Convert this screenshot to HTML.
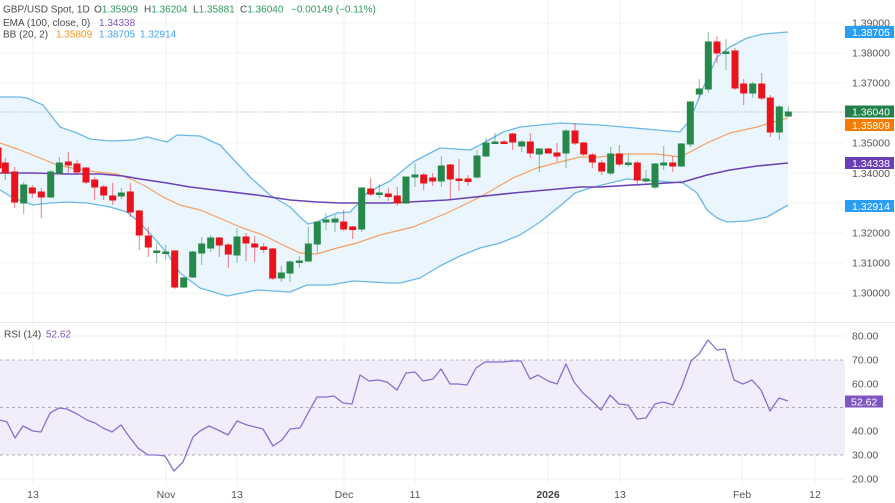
<!DOCTYPE html>
<html>
<head>
<meta charset="utf-8">
<style>
html,body{margin:0;padding:0;background:#fff;}
svg{display:block;font-family:"Liberation Sans",Arial,sans-serif;}
</style>
</head>
<body>
<svg width="895" height="503" viewBox="0 0 895 503" xmlns="http://www.w3.org/2000/svg">
<rect width="895" height="503" fill="#fff"/>
<!-- vertical grid -->
<g stroke="#f1f1f1" stroke-width="1">
<line x1="33" y1="0" x2="33" y2="485"/>
<line x1="166" y1="0" x2="166" y2="485"/>
<line x1="237" y1="0" x2="237" y2="485"/>
<line x1="344" y1="0" x2="344" y2="485"/>
<line x1="415" y1="0" x2="415" y2="485"/>
<line x1="548" y1="0" x2="548" y2="485"/>
<line x1="620" y1="0" x2="620" y2="485"/>
<line x1="742" y1="0" x2="742" y2="485"/>
<line x1="815" y1="0" x2="815" y2="485"/>
</g>
<!-- horizontal grid main -->
<g stroke="#f3f3f3" stroke-width="1">
<line x1="0" y1="23" x2="845" y2="23"/>
<line x1="0" y1="53" x2="845" y2="53"/>
<line x1="0" y1="83" x2="845" y2="83"/>
<line x1="0" y1="143" x2="845" y2="143"/>
<line x1="0" y1="173" x2="845" y2="173"/>
<line x1="0" y1="203" x2="845" y2="203"/>
<line x1="0" y1="233" x2="845" y2="233"/>
<line x1="0" y1="263" x2="845" y2="263"/>
<line x1="0" y1="293" x2="845" y2="293"/>
</g>
<!-- panel separator -->
<line x1="0" y1="322.5" x2="895" y2="322.5" stroke="#e6e6e6" stroke-width="1"/>

<!-- BB fill -->
<path d="M0,97 L20,97 L27,98 L43,105 L60,127 L77,133 L90,139 L110,141 L133,140 L147,137 L167,142 L177,135 L200,136 L220,145 L250,177 L270,195 L290,207 L300,217 L308,224 L317,222 L327,217 L337,213 L350,212 L357,205 L367,193 L380,186 L390,181 L413,162 L440,148 L470,150 L480,145 L503,132 L520,127 L560,123 L580,124 L600,125 L623,127 L657,130 L680,132 L690,120 L703,88 L717,57 L730,47 L747,38 L763,34 L788,32 L788,205 L767,217 L747,221 L727,222 L717,218 L707,210 L697,193 L683,183 L657,181 L627,179 L610,183 L590,188 L575,193 L560,206 L540,222 L520,235 L500,243 L480,248 L460,256 L440,266 L420,278 L400,283 L390,283 L353,281 L330,285 L307,285 L290,292 L257,290 L227,296 L200,288 L180,273 L167,253 L153,237 L140,223 L127,212 L110,207 L87,203 L67,202 L50,203 L33,205 L13,198 L0,190 Z" fill="#eaf5fd"/>

<!-- price line -->
<line x1="0" y1="112" x2="845" y2="112" stroke="#9fcfb0" stroke-width="1" stroke-dasharray="1.5 1.5"/>

<!-- BB lines -->
<g fill="none" stroke="#6cb8e6" stroke-width="1.3" stroke-linejoin="round">
<path d="M0,97 L20,97 L27,98 L43,105 L60,127 L77,133 L90,139 L110,141 L133,140 L147,137 L167,142 L177,135 L200,136 L220,145 L250,177 L270,195 L290,207 L300,217 L308,224 L317,222 L327,217 L337,213 L350,212 L357,205 L367,193 L380,186 L390,181 L413,162 L440,148 L470,150 L480,145 L503,132 L520,127 L560,123 L580,124 L600,125 L623,127 L657,130 L680,132 L690,120 L703,88 L717,57 L730,47 L747,38 L763,34 L788,32"/>
<path d="M0,190 L13,198 L33,205 L50,203 L67,202 L87,203 L110,207 L127,212 L140,223 L153,237 L167,253 L180,273 L200,288 L227,296 L257,290 L290,292 L307,285 L330,285 L353,281 L390,283 L400,283 L420,278 L440,266 L460,256 L480,248 L500,243 L520,235 L540,222 L560,206 L575,193 L590,188 L610,183 L627,179 L657,181 L683,183 L697,193 L707,210 L717,218 L727,222 L747,221 L767,217 L788,205"/>
</g>
<!-- BB basis -->
<path d="M0,143 L20,150 L40,158 L57,165 L77,169 L97,172 L117,174 L133,180 L147,187 L163,197 L180,205 L200,210 L217,217 L240,227 L263,235 L283,245 L300,253 L317,254 L337,248 L357,243 L380,235 L413,227 L447,213 L480,197 L513,178 L537,168 L560,162 L580,157 L600,157 L623,154 L657,154 L680,157 L690,152 L707,143 L730,133 L757,127 L770,123 L788,118" fill="none" stroke="#f4a261" stroke-width="1.2"/>
<!-- EMA -->
<path d="M0,173 L33,173 L67,174 L100,174 L123,176 L140,179 L167,183 L190,187 L223,191 L257,195 L290,200 L317,202 L340,203 L390,203 L447,200 L513,193 L580,187 L600,187 L683,182 L707,175 L730,170 L757,166 L788,163" fill="none" stroke="#6a44b4" stroke-width="1.6"/>

<!-- candles -->
<g id="candles">
<g stroke="#e8131b" fill="#e8131b">
<line x1="-2" y1="146" x2="-2" y2="172" stroke-opacity="0.55"/><rect x="-5" y="148" width="6" height="20"/>
<line x1="5.3" y1="158" x2="5.3" y2="180" stroke-opacity="0.55"/><rect x="2.3" y="163" width="6" height="10"/>
<line x1="14.7" y1="167" x2="14.7" y2="208" stroke-opacity="0.55"/><rect x="11.7" y="172" width="6" height="30"/>
<line x1="32.3" y1="185" x2="32.3" y2="198" stroke-opacity="0.55"/><rect x="29.3" y="188" width="6" height="5"/>
<line x1="41.3" y1="188" x2="41.3" y2="218" stroke-opacity="0.55"/><rect x="38.3" y="192" width="6" height="5"/>
<line x1="68.3" y1="152" x2="68.3" y2="173" stroke-opacity="0.55"/><rect x="65.3" y="162" width="6" height="3"/>
<line x1="77" y1="160" x2="77" y2="175" stroke-opacity="0.55"/><rect x="74" y="164" width="6" height="8"/>
<line x1="86" y1="167" x2="86" y2="184" stroke-opacity="0.55"/><rect x="83" y="168" width="6" height="14"/>
<line x1="94.7" y1="177" x2="94.7" y2="200" stroke-opacity="0.55"/><rect x="91.7" y="180" width="6" height="7"/>
<line x1="103.7" y1="185" x2="103.7" y2="200" stroke-opacity="0.55"/><rect x="100.7" y="187" width="6" height="8"/>
<line x1="112.7" y1="183" x2="112.7" y2="205" stroke-opacity="0.55"/><rect x="109.7" y="196" width="6" height="4"/>
<line x1="130.3" y1="183" x2="130.3" y2="217" stroke-opacity="0.55"/><rect x="127.3" y="192" width="6" height="20"/>
<line x1="139.3" y1="210" x2="139.3" y2="250" stroke-opacity="0.55"/><rect x="136.3" y="211" width="6" height="24"/>
<line x1="148.3" y1="227" x2="148.3" y2="257" stroke-opacity="0.55"/><rect x="145.3" y="236" width="6" height="11"/>
<line x1="174.7" y1="250" x2="174.7" y2="289" stroke-opacity="0.55"/><rect x="171.7" y="251" width="6" height="36"/>
<line x1="219.3" y1="237" x2="219.3" y2="257" stroke-opacity="0.55"/><rect x="216.3" y="238" width="6" height="7"/>
<line x1="228.3" y1="243" x2="228.3" y2="268" stroke-opacity="0.55"/><rect x="225.3" y="245" width="6" height="9"/>
<line x1="246" y1="233" x2="246" y2="261" stroke-opacity="0.55"/><rect x="243" y="237" width="6" height="6"/>
<line x1="254.7" y1="236" x2="254.7" y2="262" stroke-opacity="0.55"/><rect x="251.7" y="244" width="6" height="3"/>
<line x1="263.7" y1="243" x2="263.7" y2="253" stroke-opacity="0.55"/><rect x="260.7" y="247" width="6" height="2.5"/>
<line x1="272.7" y1="248" x2="272.7" y2="280" stroke-opacity="0.55"/><rect x="269.7" y="249" width="6" height="29"/>
<line x1="343.7" y1="210" x2="343.7" y2="231" stroke-opacity="0.55"/><rect x="340.7" y="222" width="6" height="7"/>
<line x1="352.7" y1="226" x2="352.7" y2="239" stroke-opacity="0.55"/><rect x="349.7" y="227" width="6" height="2.5"/>
<line x1="370.7" y1="178" x2="370.7" y2="196" stroke-opacity="0.55"/><rect x="367.7" y="189" width="6" height="5"/>
<line x1="388.3" y1="188" x2="388.3" y2="201" stroke-opacity="0.55"/><rect x="385.3" y="194" width="6" height="2.5"/>
<line x1="397.3" y1="187" x2="397.3" y2="206" stroke-opacity="0.55"/><rect x="394.3" y="196" width="6" height="7"/>
<line x1="423.7" y1="173" x2="423.7" y2="190" stroke-opacity="0.55"/><rect x="420.7" y="175" width="6" height="8"/>
<line x1="432.7" y1="173" x2="432.7" y2="186" stroke-opacity="0.55"/><rect x="429.7" y="178" width="6" height="3"/>
<line x1="450.3" y1="164" x2="450.3" y2="199" stroke-opacity="0.55"/><rect x="447.3" y="165" width="6" height="14"/>
<line x1="459" y1="159" x2="459" y2="191" stroke-opacity="0.55"/><rect x="456" y="179" width="6" height="1.5"/>
<line x1="468" y1="175" x2="468" y2="186" stroke-opacity="0.55"/><rect x="465" y="179" width="6" height="2.5"/>
<line x1="504" y1="140" x2="504" y2="144" stroke-opacity="0.55"/><rect x="501" y="142" width="6" height="1.5"/>
<line x1="512.7" y1="133" x2="512.7" y2="150" stroke-opacity="0.55"/><rect x="509.7" y="134" width="6" height="8"/>
<line x1="530.3" y1="133" x2="530.3" y2="158" stroke-opacity="0.55"/><rect x="527.3" y="142" width="6" height="11"/>
<line x1="548.3" y1="148" x2="548.3" y2="153" stroke-opacity="0.55"/><rect x="545.3" y="149" width="6" height="4"/>
<line x1="557" y1="143" x2="557" y2="162" stroke-opacity="0.55"/><rect x="554" y="153" width="6" height="3"/>
<line x1="575" y1="123" x2="575" y2="145" stroke-opacity="0.55"/><rect x="572" y="131" width="6" height="12"/>
<line x1="583.7" y1="142" x2="583.7" y2="156" stroke-opacity="0.55"/><rect x="580.7" y="143" width="6" height="11"/>
<line x1="592.3" y1="153" x2="592.3" y2="168" stroke-opacity="0.55"/><rect x="589.3" y="155" width="6" height="7"/>
<line x1="601.7" y1="160" x2="601.7" y2="175" stroke-opacity="0.55"/><rect x="598.7" y="163" width="6" height="8"/>
<line x1="619.3" y1="145" x2="619.3" y2="166" stroke-opacity="0.55"/><rect x="616.3" y="154" width="6" height="10"/>
<line x1="637.3" y1="161" x2="637.3" y2="184" stroke-opacity="0.55"/><rect x="634.3" y="163" width="6" height="17"/>
<line x1="672.7" y1="156" x2="672.7" y2="172" stroke-opacity="0.55"/><rect x="669.7" y="163" width="6" height="3"/>
<line x1="717" y1="36" x2="717" y2="63" stroke-opacity="0.55"/><rect x="714" y="42" width="6" height="11"/>
<line x1="735" y1="48" x2="735" y2="90" stroke-opacity="0.55"/><rect x="732" y="51" width="6" height="37"/>
<line x1="743.7" y1="79" x2="743.7" y2="105" stroke-opacity="0.55"/><rect x="740.7" y="84" width="6" height="9"/>
<line x1="761.7" y1="73" x2="761.7" y2="100" stroke-opacity="0.55"/><rect x="758.7" y="84" width="6" height="14"/>
<line x1="770.3" y1="95" x2="770.3" y2="137" stroke-opacity="0.55"/><rect x="767.3" y="98" width="6" height="34"/>
</g>
<g stroke="#26884a" fill="#26884a">
<line x1="23.7" y1="182" x2="23.7" y2="214" stroke-opacity="0.55"/><rect x="20.7" y="185" width="6" height="18"/>
<line x1="50.7" y1="170" x2="50.7" y2="198" stroke-opacity="0.55"/><rect x="47.7" y="172" width="6" height="25"/>
<line x1="59.3" y1="157" x2="59.3" y2="173" stroke-opacity="0.55"/><rect x="56.3" y="163" width="6" height="10"/>
<line x1="121.3" y1="188" x2="121.3" y2="199" stroke-opacity="0.55"/><rect x="118.3" y="193" width="6" height="3"/>
<line x1="156.7" y1="243" x2="156.7" y2="263" stroke-opacity="0.55"/><rect x="153.7" y="251" width="6" height="1.5"/>
<line x1="165.7" y1="245" x2="165.7" y2="260" stroke-opacity="0.55"/><rect x="162.7" y="252" width="6" height="1.5"/>
<line x1="183.7" y1="277" x2="183.7" y2="288" stroke-opacity="0.55"/><rect x="180.7" y="278" width="6" height="9"/>
<line x1="192.7" y1="251" x2="192.7" y2="278" stroke-opacity="0.55"/><rect x="189.7" y="252" width="6" height="25"/>
<line x1="201.7" y1="237" x2="201.7" y2="265" stroke-opacity="0.55"/><rect x="198.7" y="244" width="6" height="9"/>
<line x1="210.7" y1="235" x2="210.7" y2="252" stroke-opacity="0.55"/><rect x="207.7" y="238" width="6" height="10"/>
<line x1="237" y1="228" x2="237" y2="263" stroke-opacity="0.55"/><rect x="234" y="237" width="6" height="18"/>
<line x1="281.3" y1="266" x2="281.3" y2="282" stroke-opacity="0.55"/><rect x="278.3" y="273" width="6" height="5"/>
<line x1="290" y1="260" x2="290" y2="282" stroke-opacity="0.55"/><rect x="287" y="262" width="6" height="11"/>
<line x1="299.3" y1="256" x2="299.3" y2="268" stroke-opacity="0.55"/><rect x="296.3" y="261" width="6" height="1.5"/>
<line x1="308.3" y1="227" x2="308.3" y2="262" stroke-opacity="0.55"/><rect x="305.3" y="244" width="6" height="17"/>
<line x1="317.3" y1="222" x2="317.3" y2="253" stroke-opacity="0.55"/><rect x="314.3" y="222" width="6" height="22"/>
<line x1="326" y1="213" x2="326" y2="230" stroke-opacity="0.55"/><rect x="323" y="220" width="6" height="2"/>
<line x1="335" y1="215" x2="335" y2="232" stroke-opacity="0.55"/><rect x="332" y="219" width="6" height="3"/>
<line x1="361.7" y1="187" x2="361.7" y2="232" stroke-opacity="0.55"/><rect x="358.7" y="188" width="6" height="41"/>
<line x1="379.3" y1="184" x2="379.3" y2="198" stroke-opacity="0.55"/><rect x="376.3" y="193" width="6" height="1.5"/>
<line x1="406" y1="177" x2="406" y2="204" stroke-opacity="0.55"/><rect x="403" y="177" width="6" height="26"/>
<line x1="415" y1="163" x2="415" y2="187" stroke-opacity="0.55"/><rect x="412" y="175" width="6" height="2"/>
<line x1="441.3" y1="156" x2="441.3" y2="187" stroke-opacity="0.55"/><rect x="438.3" y="166" width="6" height="15"/>
<line x1="477" y1="150" x2="477" y2="179" stroke-opacity="0.55"/><rect x="474" y="156" width="6" height="21"/>
<line x1="486" y1="138" x2="486" y2="157" stroke-opacity="0.55"/><rect x="483" y="143" width="6" height="13"/>
<line x1="495" y1="133" x2="495" y2="144" stroke-opacity="0.55"/><rect x="492" y="142" width="6" height="1.5"/>
<line x1="521.7" y1="140" x2="521.7" y2="152" stroke-opacity="0.55"/><rect x="518.7" y="142" width="6" height="4"/>
<line x1="539.3" y1="148" x2="539.3" y2="172" stroke-opacity="0.55"/><rect x="536.3" y="149" width="6" height="5"/>
<line x1="566" y1="129" x2="566" y2="168" stroke-opacity="0.55"/><rect x="563" y="131" width="6" height="22"/>
<line x1="610.7" y1="147" x2="610.7" y2="175" stroke-opacity="0.55"/><rect x="607.7" y="154" width="6" height="19"/>
<line x1="628.3" y1="154" x2="628.3" y2="167" stroke-opacity="0.55"/><rect x="625.3" y="163" width="6" height="1.5"/>
<line x1="646" y1="170" x2="646" y2="183" stroke-opacity="0.55"/><rect x="643" y="179" width="6" height="2"/>
<line x1="655" y1="163" x2="655" y2="189" stroke-opacity="0.55"/><rect x="652" y="164" width="6" height="23"/>
<line x1="663.7" y1="146" x2="663.7" y2="170" stroke-opacity="0.55"/><rect x="660.7" y="163" width="6" height="2"/>
<line x1="681.3" y1="143" x2="681.3" y2="167" stroke-opacity="0.55"/><rect x="678.3" y="144" width="6" height="22"/>
<line x1="690.3" y1="101" x2="690.3" y2="147" stroke-opacity="0.55"/><rect x="687.3" y="102" width="6" height="42"/>
<line x1="699.3" y1="79" x2="699.3" y2="99" stroke-opacity="0.55"/><rect x="696.3" y="89" width="6" height="5"/>
<line x1="708.3" y1="32" x2="708.3" y2="93" stroke-opacity="0.55"/><rect x="705.3" y="42" width="6" height="47"/>
<line x1="726" y1="39" x2="726" y2="70" stroke-opacity="0.55"/><rect x="723" y="52" width="6" height="1.5"/>
<line x1="752.7" y1="82" x2="752.7" y2="98" stroke-opacity="0.55"/><rect x="749.7" y="84" width="6" height="9"/>
<line x1="779.3" y1="105" x2="779.3" y2="140" stroke-opacity="0.55"/><rect x="776.3" y="107" width="6" height="25"/>
<line x1="788.3" y1="107" x2="788.3" y2="117" stroke-opacity="0.55"/><rect x="785.3" y="112" width="6" height="4"/>
</g>
</g>

<!-- right axis labels main -->
<g font-size="10.5" fill="#555">
<text x="852" y="26.5">1.39000</text>
<text x="852" y="56.5">1.38000</text>
<text x="852" y="86.5">1.37000</text>
<text x="852" y="146.5">1.35000</text>
<text x="852" y="177">1.34000</text>
<text x="852" y="236.5">1.32000</text>
<text x="852" y="266.5">1.31000</text>
<text x="852" y="296.5">1.30000</text>
</g>
<g font-size="10.5" fill="#fff">
<rect x="845" y="26" width="49" height="12" fill="#2a9df4"/><text x="852" y="35.8">1.38705</text>
<rect x="845" y="105.5" width="49" height="12" fill="#23804a"/><text x="852" y="115.3">1.36040</text>
<rect x="845" y="119" width="49" height="12" fill="#f57c00"/><text x="852" y="128.8">1.35809</text>
<rect x="845" y="157" width="49" height="12" fill="#6a3fb5"/><text x="852" y="166.8">1.34338</text>
<rect x="845" y="200" width="49" height="12" fill="#2a9df4"/><text x="852" y="209.8">1.32914</text>
</g>

<!-- legend -->
<g font-size="10">
<text x="3" y="12.5" fill="#4a4a4a">GBP/USD Spot, 1D</text>
<text x="94" y="12.5" fill="#4a4a4a">O<tspan fill="#2e9a5b">1.35909</tspan></text>
<text x="144" y="12.5" fill="#4a4a4a">H<tspan fill="#2e9a5b">1.36204</tspan></text>
<text x="193" y="12.5" fill="#4a4a4a">L<tspan fill="#2e9a5b">1.35881</tspan></text>
<text x="240" y="12.5" fill="#4a4a4a">C<tspan fill="#2e9a5b">1.36040</tspan></text>
<text x="291" y="12.5" fill="#2e9a5b">−0.00149 (−0.11%)</text>
<text x="3" y="26" fill="#4a4a4a">EMA (100, close, 0)</text>
<text x="99" y="26" fill="#7e57c2">1.34338</text>
<text x="3" y="37.5" fill="#4a4a4a">BB (20, 2)</text>
<text x="56" y="37.5" fill="#f7931e">1.35809</text>
<text x="99" y="37.5" fill="#42a5f5">1.38705</text>
<text x="140" y="37.5" fill="#42a5f5">1.32914</text>
</g>

<!-- RSI panel -->
<rect x="0" y="360" width="845" height="95" fill="#f1edfa"/>
<g stroke="#f0f0f0" stroke-width="1">
<line x1="0" y1="336" x2="845" y2="336"/>
<line x1="0" y1="384" x2="845" y2="384"/>
<line x1="0" y1="431" x2="845" y2="431"/>
<line x1="0" y1="479" x2="845" y2="479"/>
</g>
<g stroke="#9a9a9a" stroke-width="0.8" stroke-dasharray="3 3">
<line x1="0" y1="360" x2="845" y2="360"/>
<line x1="0" y1="407.5" x2="845" y2="407.5"/>
<line x1="0" y1="455" x2="845" y2="455"/>
</g>
<path d="M0,420 L7,422 L15,438 L23,426 L33,431 L41,432 L50,413 L59,408 L67,409 L77,414 L87,420 L95,423 L103,428 L112,432 L121,425 L128,435 L138,448 L148,455 L157,455 L165,456 L174,471 L183,462 L193,437 L200,431 L209,426 L218,430 L228,435 L237,421 L247,425 L255,427 L263,429 L273,446 L282,440 L290,429 L300,428 L308,413 L317,397 L326,397 L334,396 L343,403 L352,404 L360,375 L369,381 L378,380 L387,382 L397,390 L406,373 L415,372 L423,381 L433,379 L441,369 L450,384 L458,384 L467,385 L476,368 L485,362 L494,362 L503,362 L512,361 L521,361 L530,379 L538,375 L548,381 L557,384 L566,364 L574,382 L583,393 L592,401 L601,410 L610,395 L619,404 L628,405 L637,419 L646,418 L655,404 L663,402 L673,405 L682,386 L691,361 L699,354 L708,340 L717,350 L725,349 L734,380 L743,384 L752,380 L761,390 L770,411 L779,398 L788,401" fill="none" stroke="#8a6fcf" stroke-width="1.3" stroke-linejoin="round"/>

<g font-size="10" >
<text x="4" y="337.5" fill="#4a4a4a">RSI (14)</text>
<text x="46" y="337.5" fill="#7e57c2">52.62</text>
</g>
<g font-size="10.5" fill="#555">
<text x="852" y="339.5">80.00</text>
<text x="852" y="363.5">70.00</text>
<text x="852" y="387.5">60.00</text>
<text x="852" y="434.5">40.00</text>
<text x="852" y="458.5">30.00</text>
<text x="852" y="482.5">20.00</text>
</g>
<rect x="845" y="395.5" width="38" height="12" fill="#7e57c2"/>
<text x="851" y="405.3" font-size="10.5" fill="#fff">52.62</text>

<!-- x axis labels -->
<g font-size="10.5" fill="#555" text-anchor="middle">
<text x="33" y="498">13</text>
<text x="166" y="498">Nov</text>
<text x="237" y="498">13</text>
<text x="344" y="498">Dec</text>
<text x="415" y="498">11</text>
<text x="548" y="498" font-weight="bold" fill="#444">2026</text>
<text x="620" y="498">13</text>
<text x="742" y="498">Feb</text>
<text x="815" y="498">12</text>
</g>
</svg>
</body>
</html>
